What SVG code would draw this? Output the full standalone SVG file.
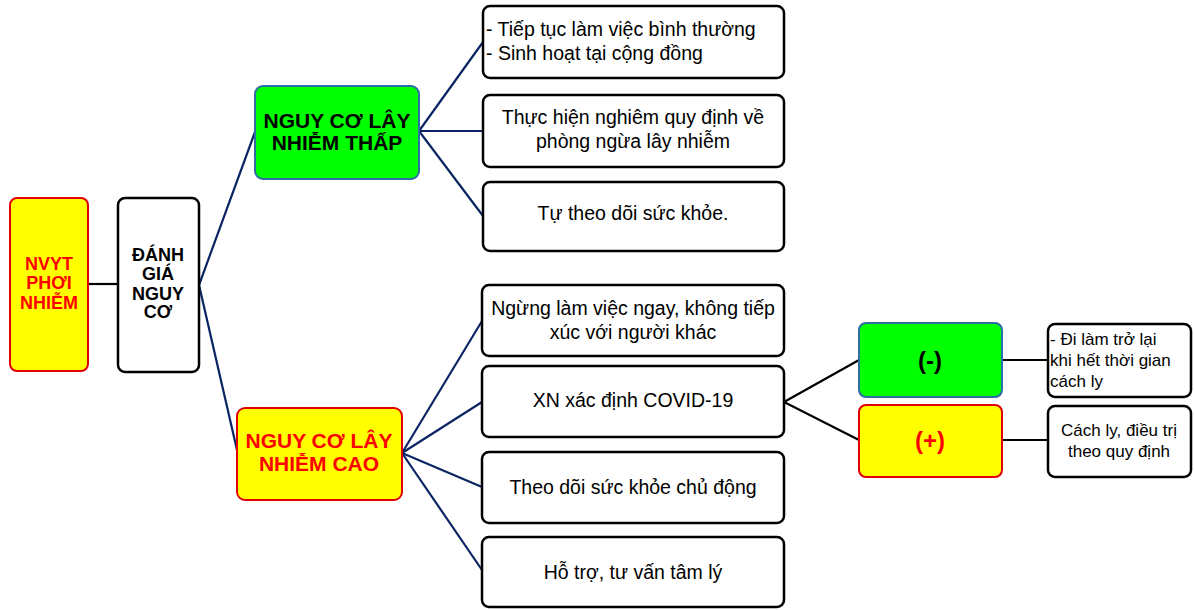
<svg xmlns="http://www.w3.org/2000/svg" width="1194" height="610" viewBox="0 0 1194 610">
<style>
.wb{fill:#fff;stroke:#000;stroke-width:2.5}
.yb{fill:#ffff00;stroke:#e00000;stroke-width:2}
.gb{fill:#00ff00;stroke:#2e6ca8;stroke-width:2}
.t{font-family:"Liberation Sans",Arial,sans-serif;font-size:19.5px;fill:#000}
.s{font-size:17px}
.c{text-anchor:middle}
.bh{font-family:"Liberation Sans",Arial,sans-serif;font-weight:bold;text-anchor:middle}
.nv{fill:none;stroke:#0b2463;stroke-width:2.2}
.bk{fill:none;stroke:#000;stroke-width:2.2}
</style>
<rect width="1194" height="610" fill="#fff"/>
<g id="connectors">
<line class="bk" x1="88" y1="284" x2="118" y2="284"/>
<polyline class="nv" points="255,132 199,285 237,450"/>
<line class="nv" x1="419" y1="131" x2="483" y2="42"/>
<line class="nv" x1="419" y1="131" x2="483" y2="131"/>
<line class="nv" x1="419" y1="131" x2="483" y2="216"/>
<line class="nv" x1="402" y1="453" x2="482" y2="321"/>
<line class="nv" x1="402" y1="453" x2="482" y2="402"/>
<line class="nv" x1="402" y1="453" x2="482" y2="487"/>
<line class="nv" x1="402" y1="453" x2="482" y2="570"/>
<polyline class="bk" points="859,360 784,402 859,440"/>
<line class="bk" x1="1002" y1="360" x2="1048" y2="360"/>
<line class="bk" x1="1002" y1="440" x2="1048" y2="440"/>
</g>
<g id="nvyt">
<rect class="yb" x="10" y="198" width="78" height="173" rx="7"/>
<text class="bh" font-size="18" fill="#ff0000"><tspan x="49" y="270">NVYT</tspan><tspan x="49" y="289">PHƠI</tspan><tspan x="49" y="309">NHIỄM</tspan></text>
</g>
<g id="danhgia">
<rect class="wb" x="118" y="198" width="81" height="174" rx="7"/>
<text class="bh" font-size="18" fill="#000"><tspan x="158" y="261">ĐÁNH</tspan><tspan x="158" y="280">GIÁ</tspan><tspan x="158" y="300">NGUY</tspan><tspan x="158" y="318">CƠ</tspan></text>
</g>
<g id="thap">
<rect class="gb" x="255" y="86" width="164" height="93" rx="8"/>
<text class="bh" font-size="21" fill="#000"><tspan x="337" y="128">NGUY CƠ LÂY</tspan><tspan x="337" y="150">NHIỄM THẤP</tspan></text>
</g>
<g id="cao">
<rect class="yb" x="237" y="408" width="165" height="92" rx="8"/>
<text class="bh" font-size="21" fill="#ff0000"><tspan x="319" y="448">NGUY CƠ LÂY</tspan><tspan x="319" y="471">NHIỄM CAO</tspan></text>
</g>
<g id="b1">
<rect class="wb" x="483" y="6" width="301" height="72" rx="7"/>
<text class="t"><tspan x="486" y="36">- Tiếp tục làm việc bình thường</tspan><tspan x="486" y="60">- Sinh hoạt tại cộng đồng</tspan></text>
</g>
<g id="b2">
<rect class="wb" x="483" y="95" width="301" height="72" rx="7"/>
<text class="t c"><tspan x="633" y="124">Thực hiện nghiêm quy định về</tspan><tspan x="633" y="148">phòng ngừa lây nhiễm</tspan></text>
</g>
<g id="b3">
<rect class="wb" x="483" y="182" width="301" height="69" rx="7"/>
<text class="t c" x="633" y="220">Tự theo dõi sức khỏe.</text>
</g>
<g id="b4">
<rect class="wb" x="482" y="285" width="302" height="71" rx="7"/>
<text class="t c"><tspan x="633" y="315">Ngừng làm việc ngay, không tiếp</tspan><tspan x="633" y="339">xúc với người khác</tspan></text>
</g>
<g id="b5">
<rect class="wb" x="482" y="366" width="302" height="71" rx="7"/>
<text class="t c" x="633" y="407">XN xác định COVID-19</text>
</g>
<g id="b6">
<rect class="wb" x="482" y="452" width="302" height="71" rx="7"/>
<text class="t c" x="633" y="494">Theo dõi sức khỏe chủ động</text>
</g>
<g id="b7">
<rect class="wb" x="482" y="537" width="302" height="70" rx="7"/>
<text class="t c" x="633" y="579">Hỗ trợ, tư vấn tâm lý</text>
</g>
<g id="neg">
<rect class="gb" x="859" y="323" width="143" height="74" rx="7"/>
<text class="bh" font-size="24" fill="#000" x="930" y="369">(-)</text>
</g>
<g id="pos">
<rect class="yb" x="859" y="405" width="143" height="72" rx="7"/>
<text class="bh" font-size="24" fill="#ff0000" x="930" y="449">(+)</text>
</g>
<g id="r1">
<rect class="wb" x="1048" y="324" width="143" height="73" rx="7"/>
<text class="t s"><tspan x="1050" y="345">- Đi làm trở lại</tspan><tspan x="1050" y="366">khi hết thời gian</tspan><tspan x="1050" y="387">cách ly</tspan></text>
</g>
<g id="r2">
<rect class="wb" x="1048" y="406" width="143" height="71" rx="7"/>
<text class="t s c"><tspan x="1119" y="436">Cách ly, điều trị</tspan><tspan x="1119" y="457">theo quy định</tspan></text>
</g>
</svg>
